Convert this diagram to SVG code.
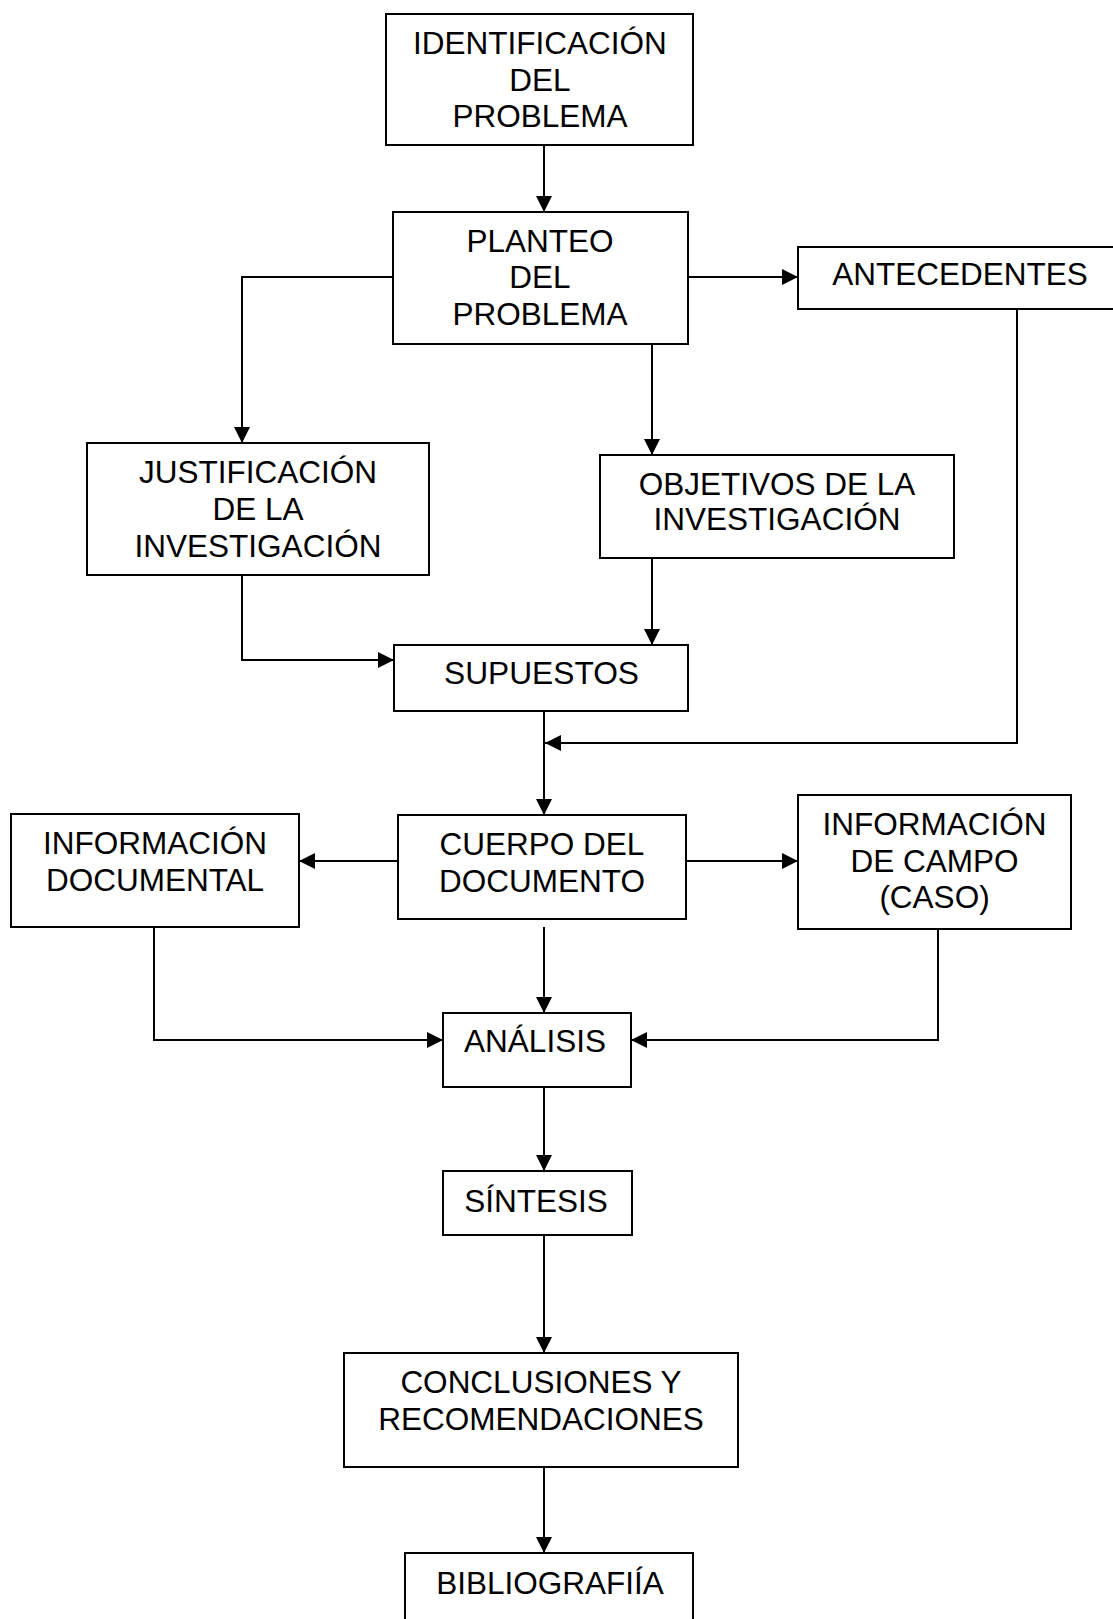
<svg xmlns="http://www.w3.org/2000/svg" width="1113" height="1619" viewBox="0 0 1113 1619">
<style>
.box{fill:#fff;stroke:#000;stroke-width:2}
.t{font-family:"Liberation Sans",Arial,sans-serif;font-size:31.5px;fill:#000;text-anchor:middle}
.c{fill:none;stroke:#000;stroke-width:2;marker-end:url(#ah)}
</style>
<defs>
<marker id="ah" markerUnits="userSpaceOnUse" markerWidth="16" markerHeight="16" refX="16" refY="8" orient="auto">
<path d="M0,0 L16,8 L0,16 z" fill="#000"/>
</marker>
</defs>
<rect width="1113" height="1619" fill="#fff"/>
<g id="connectors">
<path class="c" d="M544,145 L544,212"/>
<path class="c" d="M688,277 L798,277"/>
<path class="c" d="M393,277 L242,277 L242,443"/>
<path class="c" d="M652,344 L652,455"/>
<path class="c" d="M242,575 L242,660 L394,660"/>
<path class="c" d="M652,558 L652,645"/>
<path class="c" d="M544,711 L544,815"/>
<path class="c" d="M1017,309 L1017,743 L545,743"/>
<path class="c" d="M398,861 L299,861"/>
<path class="c" d="M686,861 L798,861"/>
<path class="c" d="M544,927 L544,1013"/>
<path class="c" d="M154,927 L154,1040 L443,1040"/>
<path class="c" d="M938,929 L938,1040 L631,1040"/>
<path class="c" d="M544,1087 L544,1171"/>
<path class="c" d="M544,1235 L544,1353"/>
<path class="c" d="M544,1467 L544,1553"/>
</g>
<g id="identificacion">
<rect class="box" x="386" y="14" width="307" height="131"/>
<text class="t" x="540" y="54">IDENTIFICACIÓN</text>
<text class="t" x="540" y="91">DEL</text>
<text class="t" x="540" y="127">PROBLEMA</text>
</g>
<g id="planteo">
<rect class="box" x="393" y="212" width="295" height="132"/>
<text class="t" x="540" y="252">PLANTEO</text>
<text class="t" x="540" y="288">DEL</text>
<text class="t" x="540" y="325">PROBLEMA</text>
</g>
<g id="antecedentes">
<rect class="box" x="798" y="247" width="322" height="62"/>
<text class="t" x="960" y="285">ANTECEDENTES</text>
</g>
<g id="justificacion">
<rect class="box" x="87" y="443" width="342" height="132"/>
<text class="t" x="258" y="483">JUSTIFICACIÓN</text>
<text class="t" x="258" y="520">DE LA</text>
<text class="t" x="258" y="557">INVESTIGACIÓN</text>
</g>
<g id="objetivos">
<rect class="box" x="600" y="455" width="354" height="103"/>
<text class="t" x="777" y="495">OBJETIVOS DE LA</text>
<text class="t" x="777" y="530">INVESTIGACIÓN</text>
</g>
<g id="supuestos">
<rect class="box" x="394" y="645" width="294" height="66"/>
<text class="t" x="541.5" y="684" textLength="195" lengthAdjust="spacingAndGlyphs">SUPUESTOS</text>
</g>
<g id="info-documental">
<rect class="box" x="11" y="814" width="288" height="113"/>
<text class="t" x="155" y="854">INFORMACIÓN</text>
<text class="t" x="155" y="891">DOCUMENTAL</text>
</g>
<g id="cuerpo">
<rect class="box" x="398" y="815" width="288" height="104"/>
<text class="t" x="542" y="855">CUERPO DEL</text>
<text class="t" x="542" y="892">DOCUMENTO</text>
</g>
<g id="info-campo">
<rect class="box" x="798" y="795" width="273" height="134"/>
<text class="t" x="934.5" y="835">INFORMACIÓN</text>
<text class="t" x="934.5" y="872">DE CAMPO</text>
<text class="t" x="934.5" y="908">(CASO)</text>
</g>
<g id="analisis">
<rect class="box" x="443" y="1013" width="188" height="74"/>
<text class="t" x="535" y="1052">ANÁLISIS</text>
</g>
<g id="sintesis">
<rect class="box" x="443" y="1171" width="189" height="64"/>
<text class="t" x="536" y="1212">SÍNTESIS</text>
</g>
<g id="conclusiones">
<rect class="box" x="344" y="1353" width="394" height="114"/>
<text class="t" x="541" y="1393">CONCLUSIONES Y</text>
<text class="t" x="541" y="1430">RECOMENDACIONES</text>
</g>
<g id="bibliografia">
<rect class="box" x="405" y="1553" width="288" height="80"/>
<text class="t" x="550" y="1594">BIBLIOGRAFIÍA</text>
</g>
</svg>
